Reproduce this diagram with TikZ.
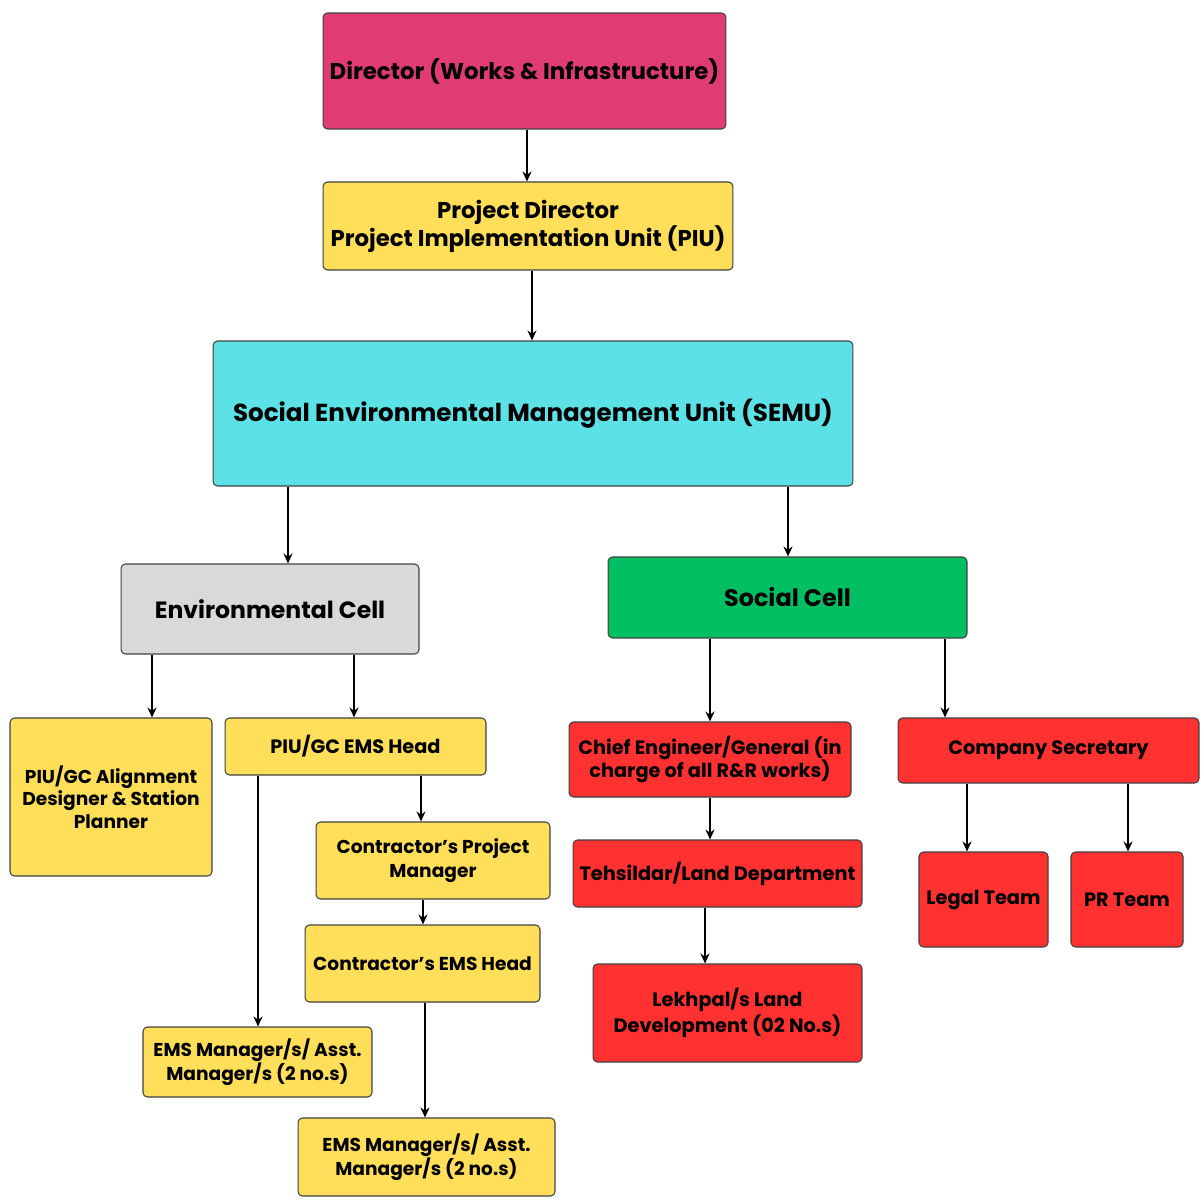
\documentclass[tikz,border=0pt]{standalone}
\usepackage{fontspec}
\setmainfont{Poppins}
\usetikzlibrary{arrows.meta}

\definecolor{dirpink}{HTML}{E13B76}
\definecolor{piuyellow}{HTML}{FFDE59}
\definecolor{semucyan}{HTML}{5CE1E6}
\definecolor{envgrey}{HTML}{D9D9D9}
\definecolor{socgreen}{HTML}{00BF63}
\definecolor{socred}{HTML}{FF3131}

\tikzset{
  orgbox/.style={draw=black!75, line width=0.6pt, rounded corners=2.5pt, align=center,
    inner sep=1pt, font=\bfseries\fontsize{11}{13.6}\selectfont},
  smallbox/.style={orgbox, font=\bfseries\fontsize{10.6}{13.4}\selectfont},
  arr/.style={-{Stealth[length=2mm,width=1.8mm]}, line width=0.9pt}
}

\begin{document}
\begin{tikzpicture}[x=0.02cm,y=-0.02cm]
\useasboundingbox (0,0) rectangle (1202,1203);
% top of the chart
\node[orgbox, fill=dirpink, minimum width=8.06cm, minimum height=2.32cm,
  font=\bfseries\fontsize{13}{16}\selectfont] (dir) at (524.5,71) {Director (Works \& Infrastructure)};
\node[orgbox, fill=piuyellow, minimum width=8.2cm, minimum height=1.76cm,
  font=\bfseries\fontsize{13}{15.9}\selectfont] (pd) at (528,226) {Project Director\\Project Implementation Unit (PIU)};
\node[orgbox, fill=semucyan, minimum width=12.8cm, minimum height=2.9cm,
  font=\bfseries\fontsize{14}{17}\selectfont] (semu) at (533,413.5) {Social Environmental Management Unit (SEMU)};
% cells
\node[orgbox, fill=envgrey, minimum width=5.96cm, minimum height=1.8cm,
  font=\bfseries\fontsize{13.4}{16}\selectfont] (envc) at (270,609) {Environmental Cell};
\node[orgbox, fill=socgreen, minimum width=7.18cm, minimum height=1.62cm,
  font=\bfseries\fontsize{13.6}{16}\selectfont] (socc) at (787.5,597.5) {Social Cell};
% environmental side
\node[smallbox, fill=piuyellow, minimum width=4.04cm, minimum height=3.16cm,
  font=\bfseries\fontsize{10.6}{12.8}\selectfont] (align) at (111,797) {PIU/GC Alignment\\Designer \& Station\\Planner};
\node[orgbox, fill=piuyellow, minimum width=5.22cm, minimum height=1.14cm] (emshead) at (355.5,746.5) {PIU/GC EMS Head};
\node[smallbox, fill=piuyellow, minimum width=4.68cm, minimum height=1.54cm] (cpm) at (433,860.5) {Contractor’s Project\\Manager};
\node[smallbox, fill=piuyellow, minimum width=4.7cm, minimum height=1.54cm] (cems) at (422.5,963.5) {Contractor’s EMS Head};
\node[smallbox, fill=piuyellow, minimum width=4.58cm, minimum height=1.4cm] (emsl) at (257.5,1062) {EMS Manager/s/ Asst.\\Manager/s (2 no.s)};
\node[smallbox, fill=piuyellow, minimum width=5.14cm, minimum height=1.56cm] (emsb) at (426.5,1157) {EMS Manager/s/ Asst.\\Manager/s (2 no.s)};
% social side
\node[orgbox, fill=socred, minimum width=5.64cm, minimum height=1.5cm] (chief) at (710,759.5) {Chief Engineer/General (in\\charge of all R\&R works)};
\node[orgbox, fill=socred, minimum width=5.78cm, minimum height=1.34cm] (tehs) at (717.5,873.5) {Tehsildar/Land Department};
\node[orgbox, fill=socred, minimum width=5.38cm, minimum height=1.96cm,
  font=\bfseries\fontsize{11}{14.7}\selectfont] (lekh) at (727.5,1013) {Lekhpal/s Land\\Development (02 No.s)};
\node[orgbox, fill=socred, minimum width=6.02cm, minimum height=1.3cm] (comp) at (1048.5,750.5) {Company Secretary};
\node[orgbox, fill=socred, minimum width=2.58cm, minimum height=1.9cm] (legal) at (983.5,899.5) {Legal Team};
\node[orgbox, fill=socred, minimum width=2.24cm, minimum height=1.9cm] (pr) at (1127,899.5) {PR Team};

% connectors
\draw[arr] (dir.south -| 527,0) -- (pd.north -| 527,0);
\draw[arr] (pd.south -| 532,0) -- (semu.north -| 532,0);
\draw[arr] (semu.south -| 288,0) -- (envc.north -| 288,0);
\draw[arr] (semu.south -| 788,0) -- (socc.north -| 788,0);
\draw[arr] (envc.south -| 152,0) -- (align.north -| 152,0);
\draw[arr] (envc.south -| 354,0) -- (emshead.north -| 354,0);
\draw[arr] (emshead.south -| 258,0) -- (emsl.north -| 258,0);
\draw[arr] (emshead.south -| 421,0) -- (cpm.north -| 421,0);
\draw[arr] (cpm.south -| 423,0) -- (cems.north -| 423,0);
\draw[arr] (cems.south -| 425,0) -- (emsb.north -| 425,0);
\draw[arr] (socc.south -| 710,0) -- (chief.north -| 710,0);
\draw[arr] (socc.south -| 945,0) -- (comp.north -| 945,0);
\draw[arr] (chief.south -| 710,0) -- (tehs.north -| 710,0);
\draw[arr] (tehs.south -| 705,0) -- (lekh.north -| 705,0);
\draw[arr] (comp.south -| 967,0) -- (legal.north -| 967,0);
\draw[arr] (comp.south -| 1128,0) -- (pr.north -| 1128,0);
\end{tikzpicture}
\end{document}
